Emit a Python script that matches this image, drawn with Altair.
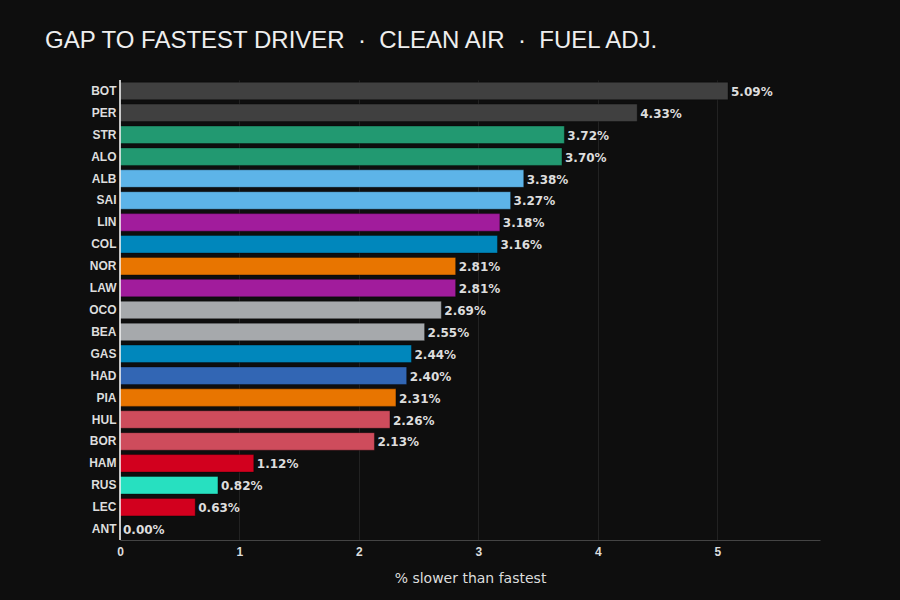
import altair as alt
import pandas as pd

drivers = ["BOT", "PER", "STR", "ALO", "ALB", "SAI", "LIN", "COL", "NOR", "LAW", "OCO",
           "BEA", "GAS", "HAD", "PIA", "HUL", "BOR", "HAM", "RUS", "LEC", "ANT"]
gaps = [5.09, 4.33, 3.72, 3.70, 3.38, 3.27, 3.18, 3.16, 2.81, 2.81, 2.69,
        2.55, 2.44, 2.40, 2.31, 2.26, 2.13, 1.12, 0.82, 0.63, 0.00]
colors = ["#404040", "#404040", "#229971", "#229971", "#5DB4E8", "#5DB4E8", "#A11C9C",
          "#0087BC", "#E87500", "#A11C9C", "#A6A9AC", "#A6A9AC", "#0087BC", "#3266B4",
          "#E87500", "#CE4C5C", "#CE4C5C", "#D2001E", "#27E0C0", "#D2001E", "#27F4D2"]

df = pd.DataFrame({
    "driver": drivers,
    "gap": gaps,
    "color": colors,
    "label": [f"{g:.2f}%" for g in gaps],
})

y_enc = alt.Y("driver:N", sort=drivers, title=None,
              scale=alt.Scale(paddingInner=0.2, paddingOuter=0.1),
              axis=alt.Axis(labelColor="#dddddd", labelFont="Liberation Sans",
                            labelFontSize=12, labelFontWeight="bold", labelPadding=4,
                            ticks=False, domain=False, grid=False))
x_enc = alt.X("gap:Q", title="% slower than fastest",
              scale=alt.Scale(domain=[0, 5.86], nice=False, zero=True),
              axis=alt.Axis(values=[0, 1, 2, 3, 4, 5], format="d",
                            labelColor="#dddddd", labelFont="Liberation Sans",
                            labelFontSize=12, labelFontWeight="bold", labelPadding=6,
                            labelFlush=False,
                            ticks=False, domainColor="#444444", gridColor="#222222",
                            titleColor="#dddddd", titleFont="DejaVu Sans",
                            titleFontSize=14, titleFontWeight="normal", titlePadding=14))

bars = alt.Chart(df).mark_bar(stroke="#000000", strokeOpacity=0.35, strokeWidth=1).encode(
    x=x_enc,
    y=y_enc,
    color=alt.Color("color:N", scale=None, legend=None),
)

zero = alt.Chart(pd.DataFrame({"z": [0]})).mark_rule(color="#ffffff", strokeWidth=1.5).encode(
    x=alt.X("z:Q", scale=alt.Scale(domain=[0, 5.86], nice=False))
)

text = alt.Chart(df).mark_text(align="left", baseline="middle", dx=3, dy=1,
                               font="DejaVu Sans", fontSize=12, fontWeight="bold",
                               color="#dddddd").encode(
    x="gap:Q",
    y=alt.Y("driver:N", sort=drivers),
    text="label:N",
)

nb = "\u00a0"
title_text = f"GAP TO FASTEST DRIVER{nb}{nb}·{nb}{nb}CLEAN AIR{nb}{nb}·{nb}{nb}FUEL ADJ."

chart = (bars + zero + text).properties(
    width=700,
    height=460,
    background="#0e0e0e",
    padding={"left": 120, "top": 80, "right": 80, "bottom": 60},
    autosize=alt.AutoSizeParams(type="none"),
    title=alt.TitleParams(title_text,
                          anchor="start", frame="group", dx=-75, offset=26,
                          font="Liberation Sans", fontSize=24, fontWeight="normal",
                          color="#eeeeee"),
).configure_view(stroke=None).configure_axis(gridWidth=1)

chart.save("out.html", embed_options={"renderer": "svg", "actions": False})
